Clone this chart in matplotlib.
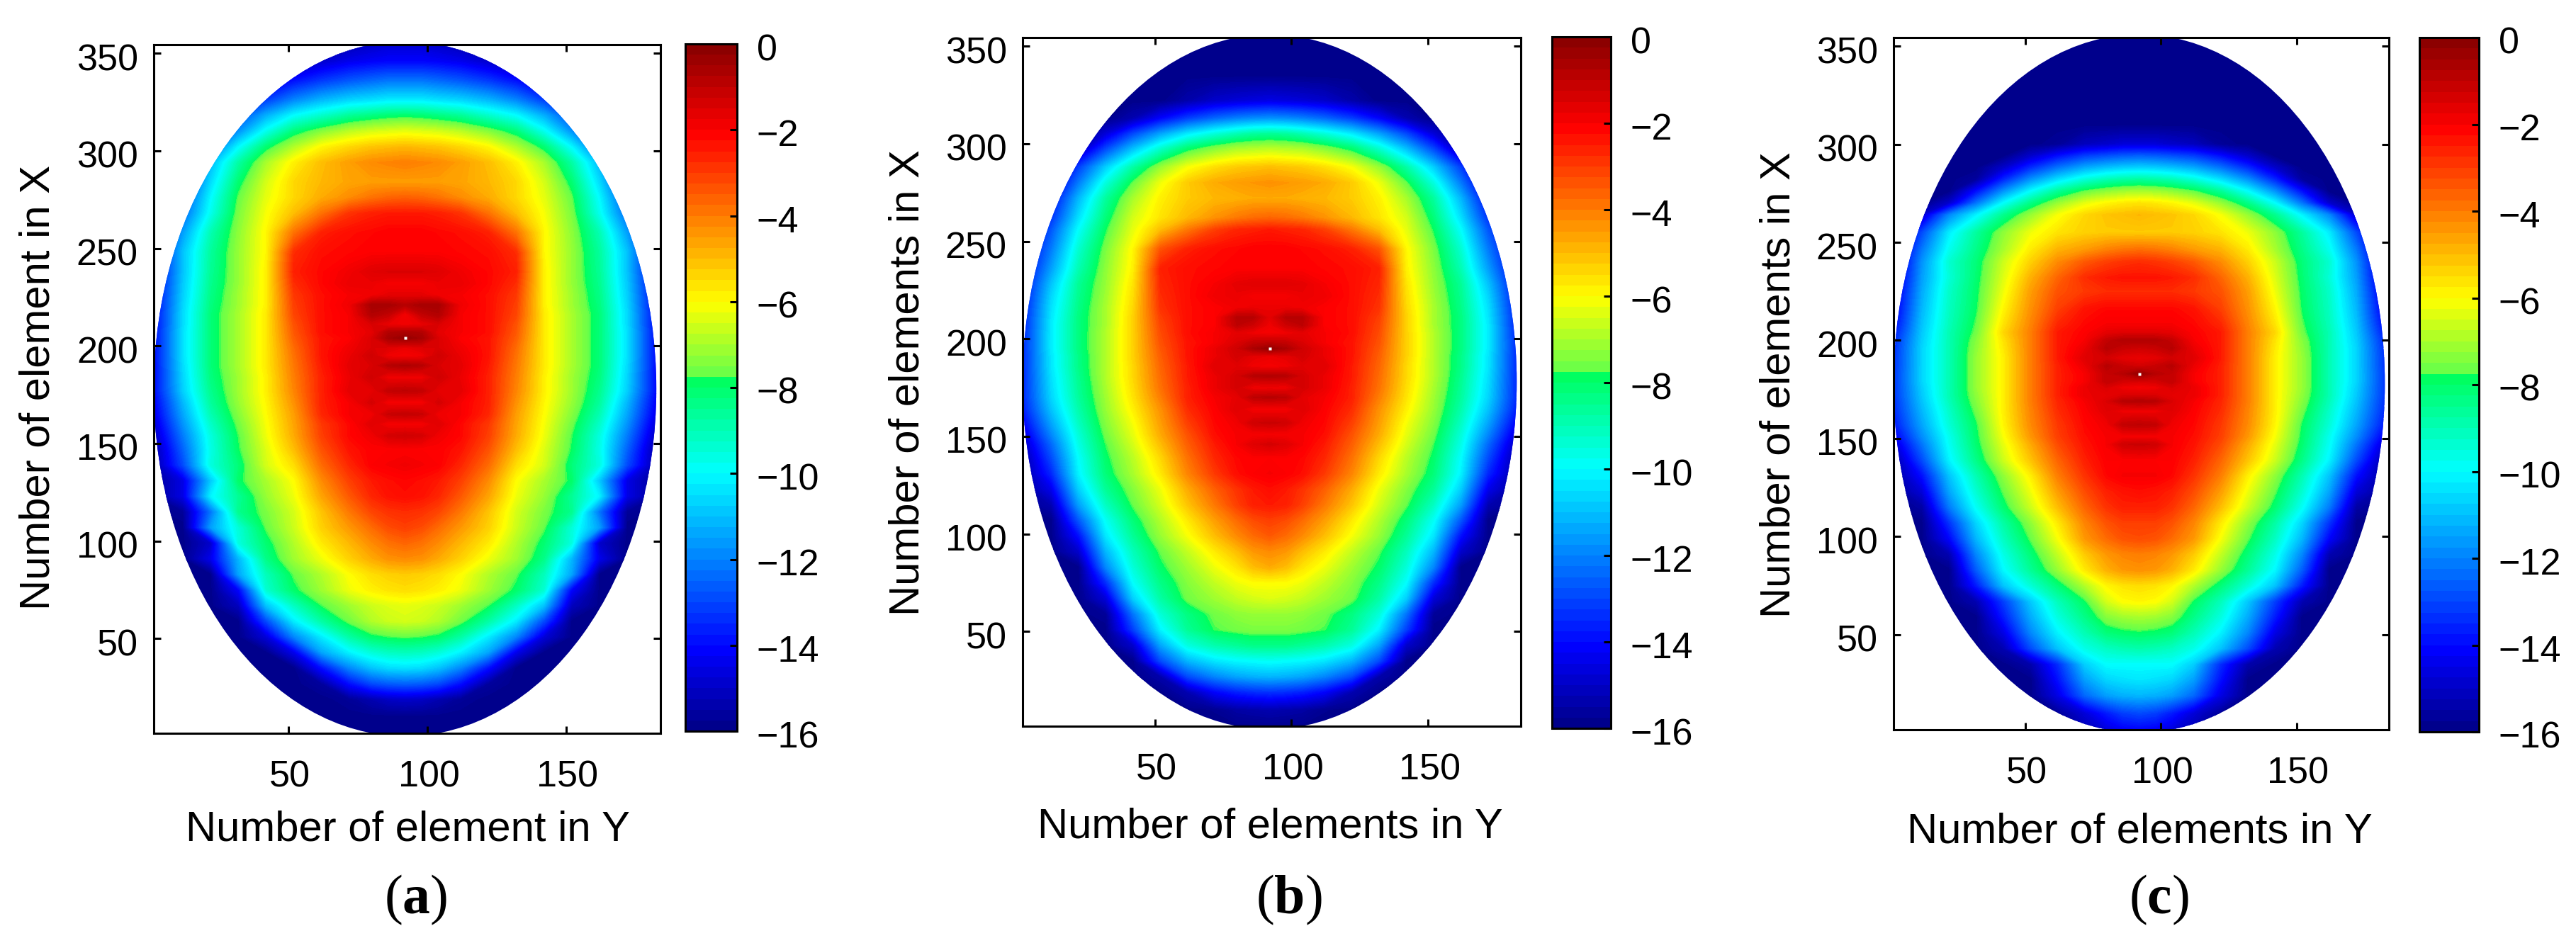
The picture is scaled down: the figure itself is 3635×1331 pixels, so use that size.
import numpy as np
import matplotlib
matplotlib.use("Agg")
import matplotlib.pyplot as plt
from matplotlib.colors import LinearSegmentedColormap, Normalize
from matplotlib.cm import ScalarMappable
from matplotlib.patches import Ellipse
from matplotlib.transforms import ScaledTranslation

plt.rcParams['font.family'] = ['Liberation Sans', 'DejaVu Sans']
plt.rcParams['mathtext.fontset'] = 'custom'
plt.rcParams['mathtext.rm'] = 'Liberation Serif'
plt.rcParams['mathtext.bf'] = 'Liberation Serif:bold'

X_TICKS = [50, 100, 150]
Y_TICKS = [50, 100, 150, 200, 250, 300, 350]
C_TICKS = [0, -2, -4, -6, -8, -10, -12, -14, -16]
OFFSETS = [0, 6, 12, 20, 30, 40, 50, 60, 70, 80, 92]   # distance in Y from the centre column

ROWS_A = [356,346,336,326,318,310,302,294,284,276,268,258,248,238,232,226,221,216,211,207,204,199,195,190,184,177,171,165,160,154,
          147,139,131,123,115,107,99,91,83,75,67,59,51,43,35,27,19,10,1]
FIELD_A = [
 [-15,-15,-15.2,-15.5,-16,-16,-16,-16,-16,-16,-16],
 [-14.2,-14.2,-14.3,-14.5,-15,-15.5,-16,-16,-16,-16,-16],
 [-12.3,-12.3,-12.5,-12.8,-13.3,-14,-15,-16,-16,-16,-16],
 [-10.3,-10.3,-10.5,-10.7,-11.2,-12,-13.2,-14.8,-16,-16,-16],
 [-8,-8.1,-8.3,-8.6,-9.3,-10,-11.3,-13,-15,-16,-16],
 [-6.3,-6.4,-6.5,-6.8,-7.4,-8.2,-9.8,-11.8,-14,-16,-16],
 [-4.9,-5,-5.1,-5.4,-5.9,-6.9,-8.1,-10.1,-12.6,-15,-16],
 [-4,-4.1,-4.2,-4.5,-5,-5.8,-7,-8.8,-11.2,-14,-16],
 [-4.5,-4.5,-4.5,-4.6,-4.9,-5.4,-6.5,-8.1,-10.6,-13.6,-16],
 [-3.5,-3.6,-3.8,-4.2,-4.7,-5.4,-6.3,-7.7,-10.1,-13,-15.5],
 [-2.4,-2.4,-2.5,-2.8,-3.8,-5,-6.1,-7.5,-9.8,-12.5,-15],
 [-2,-2,-2.1,-2.2,-2.5,-3.8,-5.9,-7.3,-9,-11.6,-15],
 [-2,-2,-2,-2.1,-2.2,-2.7,-5.9,-7.2,-8.7,-11,-15],
 [-1.4,-1.4,-1.5,-1.8,-2.1,-2.5,-5.8,-7.2,-8.6,-11,-15],
 [-1.9,-1.9,-1.7,-1.7,-2.1,-2.7,-5.8,-7.2,-8.5,-10.9,-14.9],
 [-1.6,-1.6,-1.8,-1.9,-2.2,-2.9,-5.8,-7.1,-8.4,-10.8,-14.8],
 [-0.8,-0.5,-0.5,-1.8,-2.2,-3,-5.8,-7.1,-8.3,-10.7,-14.8],
 [-1.9,-1,-0.7,-1.9,-2.2,-3.1,-5.7,-7,-8.2,-10.6,-14.7],
 [-1.8,-1.7,-1.4,-1.9,-2.2,-3.3,-5.7,-7,-8.2,-10.6,-14.7],
 [-0.6,-0.7,-1.6,-1.9,-2.2,-3.4,-5.7,-7,-8.2,-10.5,-14.6],
 [-0.2,-0.5,-1.4,-2,-2.3,-3.5,-5.7,-7,-8.2,-10.5,-14.6],
 [-1.7,-1.5,-1.4,-1.8,-2.3,-3.7,-5.7,-7,-8.2,-10.5,-14.6],
 [-1.9,-1.8,-1.2,-1.7,-2.3,-3.8,-5.7,-7,-8.2,-10.5,-14.6],
 [-0.6,-0.8,-1.4,-1.6,-2.4,-3.9,-5.7,-7,-8.2,-10.6,-14.6],
 [-1.8,-1.8,-1.2,-1.7,-2.5,-4,-5.8,-7.1,-8.3,-10.7,-14.6],
 [-0.9,-1,-1.6,-1.6,-2.5,-4.1,-5.8,-7.1,-8.5,-10.8,-14.6],
 [-1.9,-1.9,-1.3,-1.9,-2.5,-4.3,-5.9,-7.2,-8.7,-11.2,-14.8],
 [-1,-1.1,-1.8,-1.9,-2.6,-4.5,-6,-7.4,-9,-11.5,-15],
 [-1.9,-1.9,-1.5,-2.1,-2.9,-4.6,-6.1,-7.6,-9.3,-11.8,-15.3],
 [-1.2,-1.3,-1.8,-2.1,-3,-4.7,-6.2,-7.8,-9.6,-12.2,-15.6],
 [-2,-2,-2,-2.3,-3.3,-5,-6.4,-7.9,-9.7,-12.6,-16],
 [-1.8,-1.9,-2,-2.6,-3.7,-5.5,-6.5,-8.2,-9.6,-13,-16],
 [-2.1,-2.2,-2.4,-3,-4.2,-6,-7,-8,-10.9,-14.6,-16],
 [-2.2,-2.3,-2.6,-3.4,-4.6,-6.2,-7.2,-8.6,-10.2,-14.6,-16],
 [-2.7,-2.8,-3.1,-3.9,-5.1,-6.5,-7.5,-8.5,-12.3,-15.8,-16],
 [-3,-3.2,-3.7,-4.4,-5.3,-6.6,-7.7,-9.5,-11.6,-16,-16],
 [-3.6,-3.8,-4.2,-4.9,-5.7,-6.9,-8.1,-9.6,-15,-16,-16],
 [-4.2,-4.3,-4.7,-5.3,-6.2,-7.1,-8.4,-11.2,-14.5,-16,-16],
 [-5.2,-5.3,-5.5,-6,-6.9,-7.7,-9.1,-11.5,-16,-16,-16],
 [-5.5,-5.6,-5.8,-6.2,-7.1,-8,-9.4,-14.2,-16,-16,-16],
 [-6.3,-6.4,-6.6,-7.1,-7.8,-9.2,-11,-15.2,-16,-16,-16],
 [-6.5,-6.6,-6.9,-7.6,-8.8,-10.3,-13,-16,-16,-16,-16],
 [-7.7,-7.8,-8,-8.8,-10.3,-12,-14.8,-16,-16,-16,-16],
 [-9.1,-9.2,-9.5,-10.2,-11.5,-14.5,-16,-16,-16,-16,-16],
 [-10.5,-10.6,-11,-12,-14,-16,-16,-16,-16,-16,-16],
 [-12.6,-12.7,-13,-14,-15.7,-16,-16,-16,-16,-16,-16],
 [-15,-15.1,-15.4,-15.8,-16,-16,-16,-16,-16,-16,-16],
 [-16,-16,-16,-16,-16,-16,-16,-16,-16,-16,-16],
 [-16,-16,-16,-16,-16,-16,-16,-16,-16,-16,-16],
]

ROWS_B = [356,335,322,313,305,298,288,280,272,262,256,246,236,228,222,216,211,207,203,198,195,191,186,181,175,170,164,157,151,146,
          139,131,123,115,107,99,91,83,75,67,59,51,43,35,27,19,10,1]
FIELD_B = [
 [-16,-16,-16,-16,-16,-16,-16,-16,-16,-16,-16],
 [-16,-16,-16,-16,-16,-16,-16,-16,-16,-16,-16],
 [-14.6,-14.7,-14.8,-15,-15.5,-16,-16,-16,-16,-16,-16],
 [-11.8,-11.9,-12.1,-12.5,-13.2,-14.2,-15.4,-16,-16,-16,-16],
 [-8.6,-8.7,-9,-9.5,-10.3,-11.5,-13,-14.8,-16,-16,-16],
 [-6.9,-7,-7.1,-7.5,-8.2,-9.5,-11.2,-13.2,-15.6,-16,-16],
 [-5,-5.1,-5.2,-5.5,-6.1,-7.2,-8.8,-10.8,-13.2,-16,-16],
 [-4.3,-4.4,-4.5,-4.7,-5.2,-6.2,-7.7,-9.6,-12.2,-15,-16],
 [-4.7,-4.7,-4.8,-4.9,-5.2,-5.8,-7,-8.7,-11.2,-14.2,-16],
 [-3.6,-3.7,-3.9,-4.3,-4.9,-5.6,-6.5,-8.2,-10.5,-13.4,-15.8],
 [-2.4,-2.5,-2.6,-3,-3.9,-5,-6.3,-7.9,-10,-12.8,-15.4],
 [-2,-2,-2.1,-2.2,-2.5,-3.3,-5.9,-7.5,-9.4,-12.2,-15],
 [-2,-2,-2,-2.1,-2.2,-2.5,-5.8,-7.3,-9,-11.6,-14.8],
 [-1.5,-1.5,-1.6,-1.9,-2.2,-2.6,-5.6,-7.2,-8.6,-11,-14.5],
 [-1.9,-1.9,-1.7,-1.8,-2.2,-2.7,-5.5,-7.1,-8.5,-10.7,-14.4],
 [-1.7,-1.7,-1.8,-2,-2.2,-2.8,-5.4,-7,-8.4,-10.5,-14.3],
 [-1.6,-0.8,-0.8,-2,-2.2,-3,-5.3,-7,-8.3,-10.4,-14.2],
 [-1.8,-1.2,-0.9,-2,-2.2,-3.1,-5.3,-7,-8.3,-10.3,-14.2],
 [-1.9,-1.8,-1.6,-1.9,-2.2,-3.2,-5.3,-6.9,-8.3,-10.3,-14.1],
 [-0.9,-1,-1.4,-1.9,-2.3,-3.3,-5.3,-6.9,-8.3,-10.3,-14],
 [-0.2,-0.6,-1.2,-1.7,-2.3,-3.4,-5.3,-6.9,-8.3,-10.3,-14],
 [-1.7,-1.6,-1.3,-1.7,-2.3,-3.5,-5.3,-6.9,-8.4,-10.4,-14],
 [-1.9,-1.8,-1.5,-1.5,-2.4,-3.6,-5.4,-6.9,-8.4,-10.4,-14],
 [-0.7,-0.8,-1.3,-1.7,-2.4,-3.7,-5.4,-6.9,-8.5,-10.5,-14],
 [-1.8,-1.8,-1.3,-1.7,-2.5,-3.8,-5.5,-7,-8.6,-10.6,-14],
 [-0.8,-0.9,-1.6,-1.9,-2.5,-4,-5.6,-7.1,-8.7,-10.7,-14],
 [-1.9,-1.9,-1.5,-2,-2.7,-4.3,-5.8,-7.2,-8.9,-11,-14.2],
 [-1.1,-1.2,-1.8,-2.1,-3,-4.5,-6.1,-7.4,-9.2,-11.5,-14.7],
 [-1.9,-1.9,-1.9,-2.2,-3.3,-4.7,-6.3,-7.6,-9.5,-12,-15.2],
 [-1.3,-1.5,-1.9,-2.4,-3.5,-5,-6.5,-7.8,-9.7,-12.5,-15.6],
 [-2,-2,-2.1,-2.6,-3.8,-5.4,-6.8,-8,-10,-13,-16],
 [-1.9,-2,-2.2,-2.9,-4.1,-5.7,-7,-8.2,-10.2,-13.6,-16],
 [-2.2,-2.4,-2.8,-3.5,-4.7,-6.2,-7.4,-8.6,-10.8,-14.5,-16],
 [-2.4,-2.5,-3,-3.9,-5.1,-6.5,-7.7,-9.2,-11.6,-15.4,-16],
 [-3,-3.2,-3.7,-4.5,-5.7,-6.9,-8.2,-9.9,-12.8,-16,-16],
 [-3.4,-3.7,-4.2,-5,-6.1,-7.2,-8.6,-10.4,-14,-16,-16],
 [-4.2,-4.4,-5,-5.7,-6.7,-7.7,-9.1,-11.2,-15,-16,-16],
 [-4.7,-5,-5.6,-6.2,-7.1,-8,-9.5,-12,-16,-16,-16],
 [-6,-6,-6.2,-6.7,-7.4,-8.4,-10,-13.5,-16,-16,-16],
 [-6.4,-6.5,-6.7,-7.1,-7.6,-8.8,-10.8,-14.8,-16,-16,-16],
 [-7.2,-7.2,-7.3,-7.6,-8.3,-9.5,-12.3,-15.8,-16,-16,-16],
 [-7.5,-7.5,-7.6,-7.8,-8.6,-10.2,-13.2,-16,-16,-16,-16],
 [-8.4,-8.4,-8.6,-8.9,-9.6,-11.5,-15,-16,-16,-16,-16],
 [-9.9,-10,-10.1,-10.4,-11.2,-13,-16,-16,-16,-16,-16],
 [-11.2,-11.3,-11.5,-12,-13,-15.5,-16,-16,-16,-16,-16],
 [-13.4,-13.5,-13.7,-14.2,-15.4,-16,-16,-16,-16,-16,-16],
 [-15.4,-15.5,-15.6,-15.9,-16,-16,-16,-16,-16,-16,-16],
 [-16,-16,-16,-16,-16,-16,-16,-16,-16,-16,-16],
]

ROWS_C = [356,310,300,294,288,282,276,270,264,255,246,240,232,225,216,208,204,200,196,191,187,183,179,176,172,169,164,157,151,147,
          139,131,123,115,107,99,91,83,75,67,59,51,43,35,27,19,10,1]
FIELD_C = [
 [-16,-16,-16,-16,-16,-16,-16,-16,-16,-16,-16],
 [-16,-16,-16,-16,-16,-16,-16,-16,-16,-16,-16],
 [-14.8,-14.8,-15,-15.2,-15.8,-16,-16,-16,-16,-16,-16],
 [-12.6,-12.7,-12.9,-13.2,-14,-15,-16,-16,-16,-16,-16],
 [-10.7,-10.8,-11,-11.4,-12.3,-13.5,-15,-16,-16,-16,-16],
 [-8.7,-8.8,-9,-9.5,-10.5,-11.8,-13.6,-15.7,-16,-16,-16],
 [-7,-7.1,-7.3,-7.7,-8.6,-10,-11.8,-14,-16,-16,-16],
 [-5.6,-5.7,-5.9,-6.3,-7.2,-8.4,-10,-12.3,-15,-16,-16],
 [-4.9,-5,-5.1,-5.4,-6.1,-7.2,-8.5,-10.2,-12,-15,-16],
 [-5.2,-5.2,-5.2,-5.3,-5.6,-6.2,-7.3,-8.7,-10.3,-13,-16],
 [-3.7,-3.8,-4,-4.4,-4.8,-5.7,-7,-8.4,-9.8,-12.2,-16],
 [-2.7,-2.8,-3,-3.4,-4.2,-5.3,-6.6,-8.2,-9.4,-11.8,-15.8],
 [-2.3,-2.3,-2.4,-2.7,-3.6,-4.8,-6.4,-8.1,-9.5,-11.6,-15.6],
 [-2.7,-2.7,-2.7,-2.9,-3.3,-4.5,-6.2,-8,-9.3,-11.4,-15.3],
 [-2.1,-2.1,-2.1,-2.3,-3,-4.3,-5.9,-7.9,-9.2,-11.2,-15],
 [-1.9,-1.9,-1.9,-2.1,-2.6,-4.1,-5.6,-7.7,-9.1,-11,-14.6],
 [-1.5,-1.5,-1.6,-2,-2.4,-4,-5.4,-7.6,-9,-10.9,-14.3],
 [-0.7,-0.7,-1,-1.9,-2.4,-4,-5.6,-7.4,-9,-10.8,-14],
 [-1.2,-1.1,-0.8,-1.7,-2.4,-4,-5.7,-7.3,-9,-10.7,-13.9],
 [-1.7,-1.6,-1.3,-1.5,-2.4,-4,-5.8,-7.2,-9,-10.7,-13.8],
 [-1.3,-1.1,-0.8,-1.7,-2.5,-4,-5.8,-7.2,-9,-10.7,-13.8],
 [-0.2,-0.8,-1,-1.9,-2.5,-4,-5.8,-7.2,-9,-10.7,-13.7],
 [-1.4,-1.3,-1,-1.9,-2.5,-4,-5.8,-7.2,-9,-10.7,-13.7],
 [-1.9,-1.8,-1.4,-1.7,-2.5,-4,-5.8,-7.2,-9,-10.8,-13.7],
 [-1.4,-1.4,-1.6,-1.7,-2.5,-4,-5.8,-7.3,-9,-10.9,-13.7],
 [-0.7,-0.8,-1.4,-1.9,-2.6,-4,-5.8,-7.4,-9.1,-11,-13.8],
 [-1.8,-1.8,-1.5,-2,-2.7,-4.1,-5.8,-7.6,-9.3,-11.2,-13.9],
 [-0.9,-1,-1.8,-2.1,-2.9,-4.2,-5.9,-7.9,-9.5,-11.5,-14.2],
 [-1.9,-1.9,-1.9,-2.2,-3,-4.4,-6.1,-8,-9.8,-11.9,-14.8],
 [-1.1,-1.2,-1.9,-2.3,-3.2,-4.7,-6.3,-8.1,-9.9,-12.3,-15.3],
 [-2,-2,-2,-2.5,-3.6,-5.1,-6.6,-8.4,-10.2,-13,-16],
 [-1.9,-1.9,-2.1,-2.8,-4,-5.8,-7.3,-9,-11,-14,-16],
 [-2.2,-2.3,-2.5,-3.2,-4.5,-6.2,-7.7,-9.4,-11.5,-14.8,-16],
 [-2.5,-2.5,-2.8,-3.6,-5,-6.6,-8.1,-9.9,-12.2,-15.6,-16],
 [-3,-3,-3.3,-4.1,-5.7,-7.3,-8.8,-10.7,-13.4,-16,-16],
 [-3.2,-3.3,-3.7,-4.4,-6.1,-7.7,-9.2,-11.2,-14.2,-16,-16],
 [-4,-4.1,-4.4,-5.2,-6.7,-8.2,-9.7,-12,-15.4,-16,-16],
 [-4.3,-4.4,-4.8,-5.7,-7.2,-8.6,-10.1,-12.7,-16,-16,-16],
 [-5.5,-5.6,-5.9,-6.9,-8.2,-9.5,-11,-13.8,-16,-16,-16],
 [-5.9,-6,-6.5,-7.9,-9.1,-10.9,-13.2,-15.4,-16,-16,-16],
 [-7,-7.1,-7.4,-8.4,-9.6,-11.4,-13.8,-16,-16,-16,-16],
 [-7.9,-8,-8.2,-9,-10.2,-12,-14.6,-16,-16,-16,-16],
 [-8.9,-9,-9.2,-9.7,-11,-13,-15.4,-16,-16,-16,-16],
 [-10,-10,-10,-10.8,-13.5,-15.5,-16,-16,-16,-16,-16],
 [-10.4,-10.5,-10.7,-11.6,-14,-16,-16,-16,-16,-16,-16],
 [-11.2,-11.3,-11.6,-12.5,-14.6,-16,-16,-16,-16,-16,-16],
 [-13,-13.2,-13.8,-14.8,-15.8,-16,-16,-16,-16,-16,-16],
 [-14.3,-14.4,-14.8,-15.4,-16,-16,-16,-16,-16,-16,-16],
]

PEAK_Y = [92, 92, 92]
PEAK_X = [204, 195, 183]
X_LABELS = ['Number of element in Y', 'Number of elements in Y', 'Number of elements in Y']
Y_LABELS = ['Number of element in X', 'Number of elements in X', 'Number of elements in X']
CAPTIONS = [r'($\mathbf{a}$)', r'($\mathbf{b}$)', r'($\mathbf{c}$)']

W, H = 3635, 1331
CENTRE_Y, CENTRE_X, WIDTH_Y, WIDTH_X = 92, 178, 181, 356

# colour scale, with the break just above -8 that the reference shows
ANCHORS = [(0.0, (0, 0, .55)), (1.8/16, (0, 0, 1)), (6/16, (0, 1, 1)),
           (8.2/16, (0, 1, .36)), (8.23/16, (.38, 1, .3)), (10/16, (1, 1, 0)),
           (14/16, (1, 0, 0)), (1.0, (.55, 0, 0))]
CMAP_BAR = LinearSegmentedColormap.from_list('bar', ANCHORS, N=64)
CMAP_FIELD = LinearSegmentedColormap.from_list('field', ANCHORS, N=256)
NORM = Normalize(-16, 0)

# layout in pixels: axes l, r, t, b ; colourbar l, r, t, b ; label centres
LAYOUT = [
    dict(ax=(217, 932, 63, 1035), cb=(967, 1040, 62, 1032), yl=(54, 547), xl=(575, 1171), cap=(587, 1270)),
    dict(ax=(1443, 2146, 53, 1025), cb=(2190, 2273, 52, 1028), yl=(1281, 540), xl=(1792, 1167), cap=(1819, 1270)),
    dict(ax=(2672, 3371, 53, 1030), cb=(3414, 3498, 53, 1033), yl=(2510, 543), xl=(3019, 1174), cap=(3046, 1270)),
]

fig = plt.figure(figsize=(W/100, H/100), dpi=100, facecolor='white')


def make_axes(box):
    l, r, t, b = box
    return fig.add_axes([l/W, 1-b/H, (r-l)/W, (b-t)/H])


def shift_labels(labels, dx, dy):
    off = ScaledTranslation(dx/100, dy/100, fig.dpi_scale_trans)
    for lab in labels:
        lab.set_transform(lab.get_transform() + off)


LW = 2.2
for i, (rows, field) in enumerate(zip([ROWS_A, ROWS_B, ROWS_C], [FIELD_A, FIELD_B, FIELD_C])):
    L = LAYOUT[i]
    ax = make_axes(L['ax'])
    half = np.array(field, float)
    off = np.array(OFFSETS, float)
    yy = np.concatenate([CENTRE_Y - off[:0:-1], CENTRE_Y + off])
    zz = np.hstack([half[:, :0:-1], half])
    xx = np.array(rows, float)
    cs = ax.contourf(yy, xx[::-1], zz[::-1], levels=np.linspace(-16, 0, 193),
                     cmap=CMAP_FIELD, norm=NORM, extend='both')
    clip = Ellipse((CENTRE_Y, CENTRE_X), WIDTH_Y, WIDTH_X, transform=ax.transData)
    cs.set_clip_path(clip)
    ax.plot([PEAK_Y[i]], [PEAK_X[i]], marker='s', ms=3, color='white', mec='none', ls='none')
    ax.set_xlim(1.5, 184)
    ax.set_ylim(1.5, 354.4)
    ax.set_xticks(X_TICKS)
    ax.set_yticks(Y_TICKS)
    ax.tick_params(axis='x', direction='in', top=True, length=7, width=LW, labelsize=37.5, pad=27)
    ax.tick_params(axis='y', direction='in', right=True, length=7, width=LW, labelsize=37.5, pad=16)
    shift_labels(ax.get_yticklabels(), 0, -5)
    shift_labels(ax.get_xticklabels(), 2, 0)
    for s in ax.spines.values():
        s.set_linewidth(LW)

    cax = make_axes(L['cb'])
    cb = fig.colorbar(ScalarMappable(norm=NORM, cmap=CMAP_BAR), cax=cax, ticks=C_TICKS)
    cb.outline.set_linewidth(LW)
    cax.tick_params(axis='y', direction='in', length=7, width=LW, labelsize=37.5, pad=20)
    shift_labels(cax.get_yticklabels(), 0, -4)

    fig.text(L['yl'][0]/W, 1-L['yl'][1]/H, Y_LABELS[i], rotation=90, ha='center', va='center', fontsize=43)
    fig.text(L['xl'][0]/W, 1-L['xl'][1]/H, X_LABELS[i], ha='center', va='center', fontsize=43)
    fig.text(L['cap'][0]/W, 1-L['cap'][1]/H, CAPTIONS[i], ha='center', va='center', fontsize=56,
             family='Liberation Serif')

fig.savefig('out.png', dpi=100)
